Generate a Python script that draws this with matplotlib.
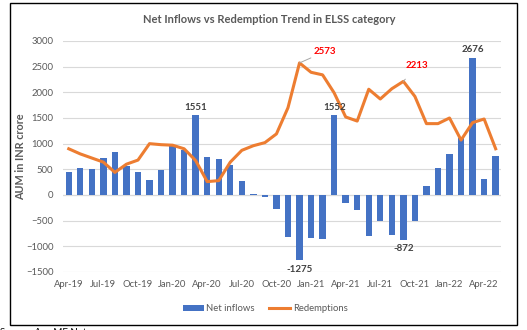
import numpy as np
import matplotlib.pyplot as plt
from matplotlib.patches import Rectangle

months = ['Apr-19', 'May-19', 'Jun-19', 'Jul-19', 'Aug-19', 'Sep-19', 'Oct-19', 'Nov-19', 'Dec-19',
          'Jan-20', 'Feb-20', 'Mar-20', 'Apr-20', 'May-20', 'Jun-20', 'Jul-20', 'Aug-20', 'Sep-20',
          'Oct-20', 'Nov-20', 'Dec-20', 'Jan-21', 'Feb-21', 'Mar-21', 'Apr-21', 'May-21', 'Jun-21',
          'Jul-21', 'Aug-21', 'Sep-21', 'Oct-21', 'Nov-21', 'Dec-21', 'Jan-22', 'Feb-22', 'Mar-22',
          'Apr-22', 'May-22']
net_inflows = [450, 520, 500, 730, 830, 570, 450, 290, 480, 950, 870, 1551, 740, 710, 590, 270,
               20, -40, -270, -810, -1275, -830, -850, 1552, -150, -290, -790, -510, -780, -872,
               -500, 170, 520, 800, 1110, 2676, 310, 750]
redemptions = [900, 800, 720, 640, 440, 600, 680, 1000, 980, 970, 900, 670, 260, 280, 640, 870,
               960, 1020, 1190, 1700, 2573, 2390, 2340, 1990, 1520, 1440, 2060, 1870, 2070, 2213,
               1920, 1390, 1390, 1500, 1070, 1410, 1480, 900]

plt.rcParams['font.family'] = ['Lato', 'DejaVu Sans']
grey = '#595959'

fig = plt.figure(figsize=(5.27, 3.30), dpi=100)
ax = fig.add_axes([0.1195, 0.1758, 0.832, 0.70])

x = np.arange(len(months))
b = ax.bar(x, net_inflows, width=0.55, color='#4472C4', label='Net inflows', zorder=2)
l, = ax.plot(x, redemptions, color='#ED7D31', lw=2.2, label='Redemptions', zorder=3)

ax.set_xlim(-0.5, len(months) - 0.5)
ax.set_ylim(-1500, 3000)
ax.set_yticks(range(-1500, 3001, 500))
ax.yaxis.grid(True, color='#D9D9D9', lw=0.8, zorder=0)
ax.axhline(0, color='#BFBFBF', lw=0.8, zorder=1)
ax.set_xticks(x[::3])
ax.set_xticklabels(months[::3])
ax.tick_params(axis='both', length=0, labelsize=6.8, labelcolor=grey)
ax.tick_params(axis='x', pad=6)
ax.tick_params(axis='y', pad=7)
for s in ax.spines.values():
	s.set_visible(False)
ax.set_ylabel('AUM in INR crore', fontsize=7.8, fontweight='bold', color=grey)
ax.yaxis.set_label_coords(-0.084, 0.5)

# data labels for the bars
for i in [11, 23, 35]:
	ax.text(x[i], net_inflows[i] + 150, str(net_inflows[i]), ha='center', va='center',
	        fontsize=7, fontweight='bold', color='#404040')
for i in [20, 29]:
	ax.text(x[i], net_inflows[i] - 180, str(net_inflows[i]), ha='center', va='center',
	        fontsize=7, fontweight='bold', color='#404040')

# red callouts on the redemption peaks
ax.annotate(str(redemptions[20]), xy=(x[20], redemptions[20]), xytext=(x[20] + 2.2, 2790),
            ha='center', va='center', fontsize=7, fontweight='bold', color='#FF0000',
            arrowprops=dict(arrowstyle='-', color='#A6A6A6', lw=0.7, shrinkA=9, shrinkB=0))
ax.annotate(str(redemptions[29]), xy=(x[29], redemptions[29]), xytext=(x[29] + 1.2, 2520),
            ha='center', va='center', fontsize=7, fontweight='bold', color='#FF0000',
            arrowprops=dict(arrowstyle='-', color='#A6A6A6', lw=0.7, shrinkA=6, shrinkB=0))

fig.text(0.51, 0.94, 'Net Inflows vs Redemption Trend in ELSS category', ha='center', va='center',
         fontsize=8, fontweight='bold', color=grey)

fig.legend([b, l], ['Net inflows', 'Redemptions'], loc='center', bbox_to_anchor=(0.503, 0.064),
           ncol=2, frameon=False, fontsize=6.8, handlelength=2.2, handleheight=0.6,
           columnspacing=1.5, handletextpad=0.3, labelcolor=grey)

fig.patches.append(Rectangle((10 / 527, 5 / 330), 507 / 527, 322 / 330, transform=fig.transFigure,
                             fill=False, edgecolor='black', lw=1.0))
fig.text(0.0, 0.006, 'Source: Ace MF Net', ha='left', va='top', fontsize=7, color='black')

plt.savefig('out.png', dpi=100)
